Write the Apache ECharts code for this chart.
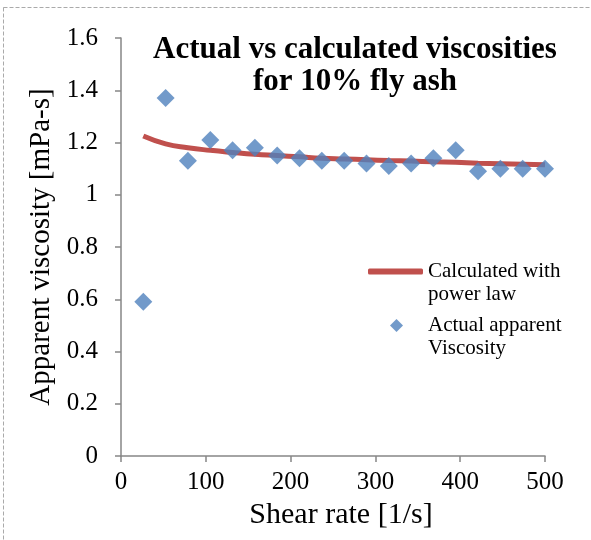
<!DOCTYPE html>
<html>
<head>
<meta charset="utf-8">
<script src="https://cdn.jsdelivr.net/npm/echarts@6/dist/echarts.min.js"></script>
<style>
  html, body { margin: 0; padding: 0; background: #fff; }
  #chart { width: 591px; height: 540px; }
</style>
</head>
<body>
<div id="chart"></div>
<script>
// shear rate [1/s]
var shearRate = [26.3, 52.6, 78.9, 105.3, 131.6, 157.9, 184.2, 210.5, 236.8, 263.2,
  289.5, 315.8, 342.1, 368.4, 394.7, 421.1, 447.4, 473.7, 500];
// measured apparent viscosity
var actualVisc = [0.59, 1.37, 1.13, 1.21, 1.17, 1.18, 1.15, 1.14, 1.13, 1.13,
  1.12, 1.11, 1.12, 1.14, 1.17, 1.09, 1.10, 1.10, 1.10];
// power law fit
var calcVisc = [1.225, 1.195, 1.18, 1.17, 1.162, 1.155, 1.15, 1.145, 1.14, 1.137,
  1.134, 1.131, 1.129, 1.126, 1.124, 1.121, 1.119, 1.117, 1.115];

var lineName = "Calculated with\npower law";
var dotName = "Actual apparent\nViscosity";

var serif = "'Liberation Serif', 'Times New Roman', serif";
var axisGrey = "#868686";

var lineData = [], dotData = [];
for (var i = 0; i < shearRate.length; i++) {
  lineData.push([shearRate[i], calcVisc[i]]);
  dotData.push([shearRate[i], actualVisc[i]]);
}

var myChart = echarts.init(document.getElementById("chart"));

var legendText = {
  fontFamily: serif,
  fontSize: 21,
  lineHeight: 23,
  color: "#000"
};
// blank first line so the icon sits next to the first line of the name
var legendFmt = function (name) {
  return "\n" + name;
};

var option = {
  animation: false,
  backgroundColor: "#fff",
  title: {
    text: "Actual vs calculated viscosities\nfor 10% fly ash",
    left: 350,
    top: 29,
    textAlign: "center",
    textStyle: {
      fontFamily: serif,
      fontWeight: "bold",
      fontSize: 31,
      lineHeight: 32,
      color: "#000"
    }
  },
  graphic: [
    {
      type: "rect",
      shape: { x: 3.5, y: 7.5, width: 700, height: 700 },
      style: { fill: null, stroke: "#aaa", lineWidth: 1, lineDash: [4, 2] },
      silent: true
    }
  ],
  legend: [
    {
      orient: "vertical",
      left: 363,
      top: 232,
      itemWidth: 55,
      itemHeight: 6,
      textStyle: legendText,
      formatter: legendFmt,
      data: [{ name: lineName, icon: "roundRect" }]
    },
    {
      orient: "vertical",
      left: 385,
      top: 286,
      itemWidth: 53,
      itemHeight: 13,
      symbolKeepAspect: true,
      textStyle: legendText,
      formatter: legendFmt,
      data: [{ name: dotName, icon: "path://M0,-1L1,0L0,1L-1,0Z" }]
    }
  ],
  grid: { left: 121, right: 46, top: 38, bottom: 84 },
  xAxis: {
    type: "value",
    min: 0,
    max: 500,
    interval: 100,
    name: "Shear rate [1/s]",
    nameLocation: "middle",
    nameGap: 44,
    nameTextStyle: { fontFamily: serif, fontSize: 30, color: "#000", padding: [0, 0, 0, 16] },
    axisLine: { lineStyle: { color: axisGrey, width: 1.5 } },
    axisTick: { show: true, length: 6, lineStyle: { color: axisGrey, width: 1.5 } },
    axisLabel: { margin: 14, fontFamily: serif, fontSize: 25, color: "#000" },
    splitLine: { show: false }
  },
  yAxis: {
    type: "value",
    min: 0,
    max: 1.6,
    interval: 0.2,
    name: "Apparent viscosity [mPa-s]",
    nameLocation: "middle",
    nameGap: 64,
    nameTextStyle: { fontFamily: serif, fontSize: 29, color: "#000" },
    axisLine: { show: true, lineStyle: { color: axisGrey, width: 1.5 } },
    axisTick: { show: true, length: 6, lineStyle: { color: axisGrey, width: 1.5 } },
    axisLabel: {
      margin: 23,
      fontFamily: serif,
      fontSize: 25,
      color: "#000",
      formatter: function (v) { return String(Math.round(v * 10) / 10); }
    },
    splitLine: { show: false }
  },
  series: [
    {
      type: "line",
      name: lineName,
      data: lineData,
      smooth: true,
      showSymbol: false,
      symbol: "none",
      lineStyle: { color: "#C0504D", width: 5 },
      itemStyle: { color: "#C0504D" },
      z: 2
    },
    {
      type: "scatter",
      name: dotName,
      data: dotData,
      symbol: "diamond",
      symbolSize: 18,
      itemStyle: { color: "#4F81BD" },
      z: 3
    }
  ]
};
myChart.setOption(option);
</script>
</body>
</html>
